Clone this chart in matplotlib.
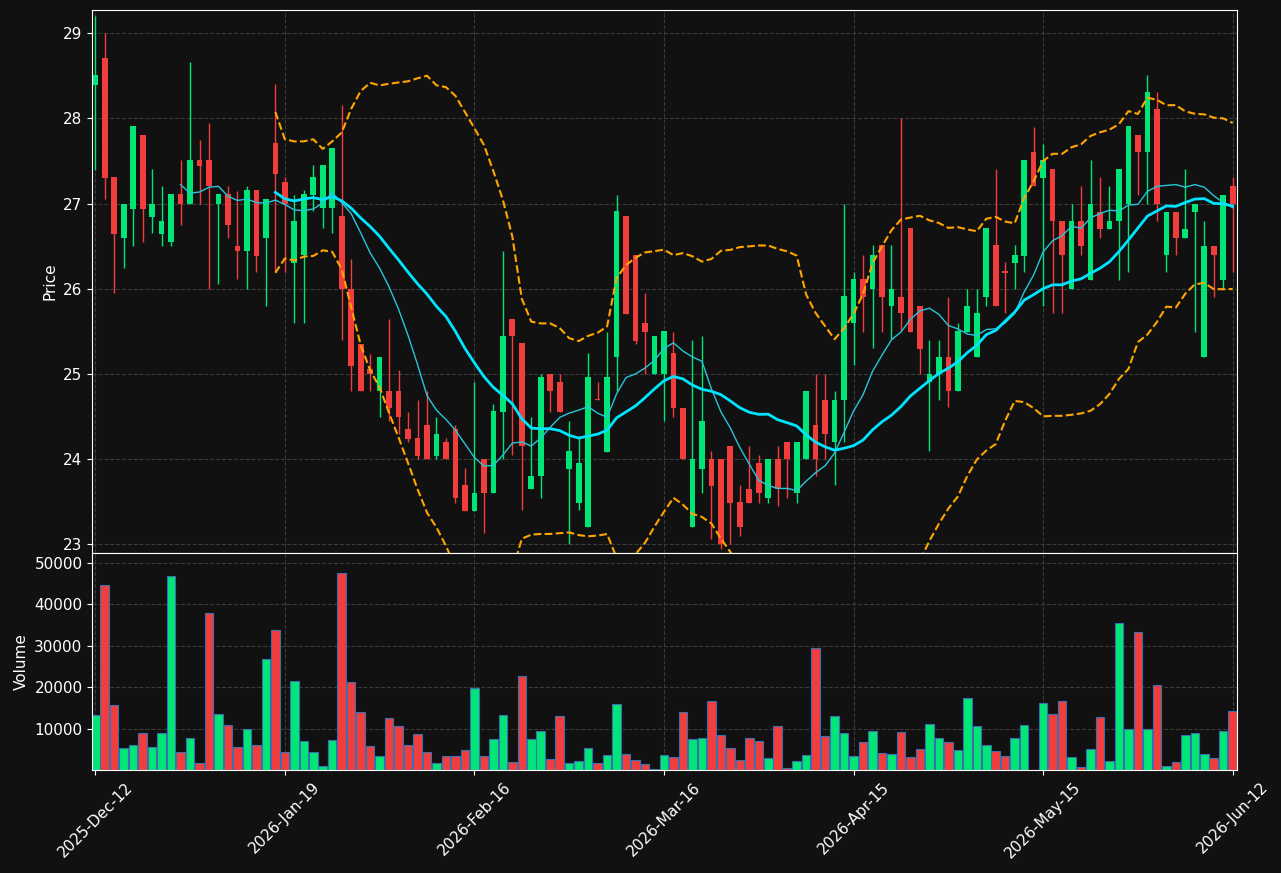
import numpy as np
import matplotlib
matplotlib.use("Agg")
import matplotlib.pyplot as plt

opens = [28.39, 28.71, 27.31, 26.59, 26.94, 27.80, 26.84, 26.64, 26.55, 27.11,
         27.00, 27.51, 27.51, 27.00, 27.11, 26.50, 26.44, 27.16, 26.59, 27.71,
         27.25, 26.30, 26.40, 27.10, 26.95, 26.95, 26.85, 26.00, 25.35, 25.06,
         24.80, 24.80, 24.80, 24.35, 24.25, 24.40, 24.04, 24.20, 24.35, 23.70,
         23.39, 24.00, 23.60, 24.55, 25.65, 25.36, 23.65, 23.80, 25.00, 24.90,
         23.89, 23.49, 23.20, 24.70, 24.09, 25.20, 26.85, 26.40, 25.60, 25.00,
         25.00, 25.25, 24.60, 23.20, 23.89, 24.00, 24.00, 24.16, 23.50, 23.65,
         23.95, 23.55, 24.00, 24.20, 23.60, 24.00, 24.40, 24.70, 24.20, 24.69,
         25.60, 26.11, 26.00, 26.51, 25.80, 25.90, 26.71, 25.80, 24.90, 25.00,
         25.20, 24.80, 25.49, 25.20, 25.90, 26.51, 26.20, 26.30, 26.39, 27.61,
         27.30, 27.40, 26.80, 26.00, 26.80, 26.10, 26.90, 26.70, 26.80, 27.00,
         27.80, 27.60, 28.11, 26.40, 26.90, 26.60, 26.90, 25.20, 26.50, 26.10,
         27.20]
highs = [29.20, 29.00, 27.31, 27.00, 27.91, 27.80, 27.40, 27.20, 27.11, 27.51,
         28.66, 27.75, 27.95, 27.11, 27.20, 27.15, 27.20, 27.16, 27.05, 28.40,
         27.31, 27.10, 27.16, 27.45, 27.45, 27.65, 28.16, 26.35, 25.35, 25.24,
         25.20, 25.65, 25.05, 24.55, 24.69, 24.80, 24.49, 24.25, 24.40, 23.90,
         24.90, 24.00, 24.65, 26.44, 25.65, 25.36, 24.50, 25.00, 25.00, 25.00,
         24.45, 24.27, 25.25, 24.90, 25.49, 27.10, 26.85, 26.40, 25.95, 25.45,
         25.50, 25.49, 24.60, 25.40, 25.45, 24.10, 24.00, 24.16, 23.70, 24.16,
         24.05, 24.00, 24.16, 24.20, 24.20, 24.80, 25.00, 25.00, 24.80, 27.00,
         26.20, 26.40, 26.51, 26.51, 26.51, 28.00, 26.71, 25.80, 25.40, 25.40,
         25.90, 25.60, 26.00, 26.00, 26.71, 27.40, 26.31, 26.51, 27.51, 27.90,
         27.70, 27.40, 26.80, 27.00, 27.20, 27.51, 27.31, 27.20, 27.40, 27.91,
         27.80, 28.51, 28.31, 26.90, 26.90, 27.40, 27.00, 26.80, 26.50, 27.10,
         27.31]
lows = [27.39, 27.05, 25.95, 26.24, 26.50, 26.55, 26.65, 26.50, 26.50, 26.75,
        27.00, 27.00, 26.00, 26.05, 26.60, 26.11, 26.00, 26.20, 25.80, 26.20,
        26.20, 25.60, 25.60, 26.91, 26.71, 26.65, 25.40, 24.80, 24.80, 24.80,
        24.49, 24.45, 24.30, 24.20, 24.00, 24.00, 24.00, 24.00, 23.49, 23.39,
        23.39, 23.14, 23.60, 24.00, 24.05, 23.40, 23.65, 23.55, 24.55, 24.55,
        23.00, 23.40, 23.20, 24.69, 24.09, 24.80, 25.70, 25.35, 25.00, 25.00,
        24.45, 24.49, 24.00, 23.20, 23.60, 23.06, 22.95, 23.00, 23.10, 23.49,
        23.49, 23.49, 23.45, 23.55, 23.49, 24.00, 23.80, 24.00, 23.70, 24.20,
        25.10, 25.49, 25.30, 25.49, 25.41, 25.51, 25.49, 25.00, 24.10, 24.70,
        24.61, 24.80, 25.49, 25.20, 25.80, 25.80, 25.71, 26.00, 26.20, 27.20,
        25.80, 25.71, 25.71, 26.00, 26.40, 26.10, 26.60, 26.70, 26.10, 26.20,
        27.10, 27.00, 26.80, 26.20, 26.40, 26.60, 25.49, 25.20, 25.90, 26.00,
        26.20]
closes = [28.51, 27.30, 26.64, 27.00, 27.91, 26.94, 27.00, 26.80, 27.11, 27.00,
          27.51, 27.44, 27.20, 27.11, 26.75, 26.44, 27.16, 26.39, 27.05, 27.35,
          27.00, 26.80, 27.11, 27.31, 27.45, 27.65, 26.00, 25.09, 24.80, 25.00,
          25.20, 24.60, 24.49, 24.24, 24.04, 24.00, 24.29, 24.00, 23.55, 23.39,
          23.60, 23.60, 24.56, 25.45, 25.44, 24.15, 23.80, 24.96, 24.80, 24.55,
          24.10, 23.95, 24.96, 24.69, 24.96, 26.91, 25.70, 25.39, 25.49, 25.45,
          25.50, 24.60, 24.00, 24.00, 24.45, 23.69, 23.00, 23.49, 23.20, 23.49,
          23.60, 24.00, 23.65, 24.00, 24.20, 24.80, 24.00, 24.29, 24.70, 25.91,
          26.11, 25.90, 26.40, 25.90, 26.00, 25.71, 25.49, 25.29, 25.00, 25.20,
          24.80, 25.50, 25.80, 25.71, 26.71, 25.80, 26.19, 26.40, 27.51, 27.20,
          27.51, 26.80, 26.40, 26.80, 26.50, 27.00, 26.70, 26.80, 27.40, 27.91,
          27.60, 28.31, 27.00, 26.90, 26.60, 26.70, 27.00, 26.50, 26.40, 27.10,
          27.00]
volumes = [13300, 44700, 15700, 5300, 6000, 8900, 5600, 8900, 46900, 4300,
           7700, 1700, 37900, 13500, 10900, 5600, 9900, 6000, 26800, 33800,
           4300, 21500, 7000, 4300, 1000, 7200, 47600, 21300, 14000, 5800,
           3400, 12600, 10600, 6000, 8700, 4300, 1700, 3400, 3400, 4800,
           19800, 3400, 7500, 13300, 1900, 22700, 7500, 9400, 2700, 13000,
           1700, 2200, 5300, 1700, 3600, 15900, 3900, 2400, 1500, 200,
           3600, 3100, 14000, 7500, 7700, 16700, 8500, 5300, 2400, 7700,
           7000, 2900, 10600, 500, 2200, 3600, 29500, 8200, 13000, 8900,
           3400, 6800, 9400, 4100, 3900, 9200, 3100, 5100, 11100, 7700,
           6800, 4800, 17400, 10600, 6000, 4600, 3400, 7700, 10900, 100,
           16200, 13500, 16700, 3100, 700, 5100, 12800, 2200, 35500, 9900,
           33300, 9900, 20500, 1000, 1900, 8500, 8900, 3900, 2900, 9400,
           14300]
tick_labels = ["2025-Dec-12", "2026-Jan-19", "2026-Feb-16", "2026-Mar-16",
               "2026-Apr-15", "2026-May-15", "2026-Jun-12"]

BG = "#111111"
UP = "#00E676"
DOWN = "#F23D3D"

o = np.array(opens)
h = np.array(highs)
l = np.array(lows)
c = np.array(closes)
v = np.array(volumes)
x = np.arange(len(c))
colors = [UP if cc >= oo else DOWN for oo, cc in zip(o, c)]

close_s = np.array(c)
sma10 = np.full(len(c), np.nan)
sma20 = np.full(len(c), np.nan)
upper = np.full(len(c), np.nan)
lower = np.full(len(c), np.nan)
for i in range(len(c)):
    if i >= 9:
        sma10[i] = close_s[i - 9:i + 1].mean()
    if i >= 19:
        win = close_s[i - 19:i + 1]
        sma20[i] = win.mean()
        upper[i] = win.mean() + 2 * win.std()
        lower[i] = win.mean() - 2 * win.std()

fig = plt.figure(figsize=(12.81, 8.73), dpi=100, facecolor=BG)
ax1 = fig.add_axes([0.072, 0.3666, 0.894, 0.6219], facecolor=BG)
ax2 = fig.add_axes([0.072, 0.118, 0.894, 0.2486], facecolor=BG, sharex=ax1)

# candles
ax1.vlines(x, l, h, colors=colors, linewidth=1)
body_lo = np.minimum(o, c)
body_h = np.maximum(np.abs(c - o), 0.02)
ax1.bar(x, body_h, bottom=body_lo, width=0.6, color=colors)

ax1.plot(x, sma10, color="#26C6DA", linewidth=1)
ax1.plot(x, sma20, color="#00E5FF", linewidth=2)
ax1.plot(x, upper, color="#FFA500", linewidth=1.5, linestyle="--")
ax1.plot(x, lower, color="#FFA500", linewidth=1.5, linestyle="--")

ax2.bar(x, v, width=0.9, color=colors, edgecolor="#3B6FB0", linewidth=0.8)

ax1.set_ylim(22.9, 29.27)
ax1.set_xlim(-0.32, 120.5)
ax2.set_ylim(0, 52400)
ax1.set_ylabel("Price", color="white", fontsize=11)
ax2.set_ylabel("Volume", color="white", fontsize=11)
ax2.set_yticks([10000, 20000, 30000, 40000, 50000])
ax2.set_xticks(np.arange(0, 121, 20))
ax2.set_xticklabels(tick_labels, rotation=45, fontsize=11)
plt.setp(ax1.get_xticklabels(), visible=False)

for ax in (ax1, ax2):
    ax.grid(True, color="#3a3a3a", linestyle="--", linewidth=0.8)
    ax.set_axisbelow(True)
    ax.tick_params(colors="white", labelsize=11)
    for s in ax.spines.values():
        s.set_color("white")

fig.savefig("out.png", facecolor=BG)
